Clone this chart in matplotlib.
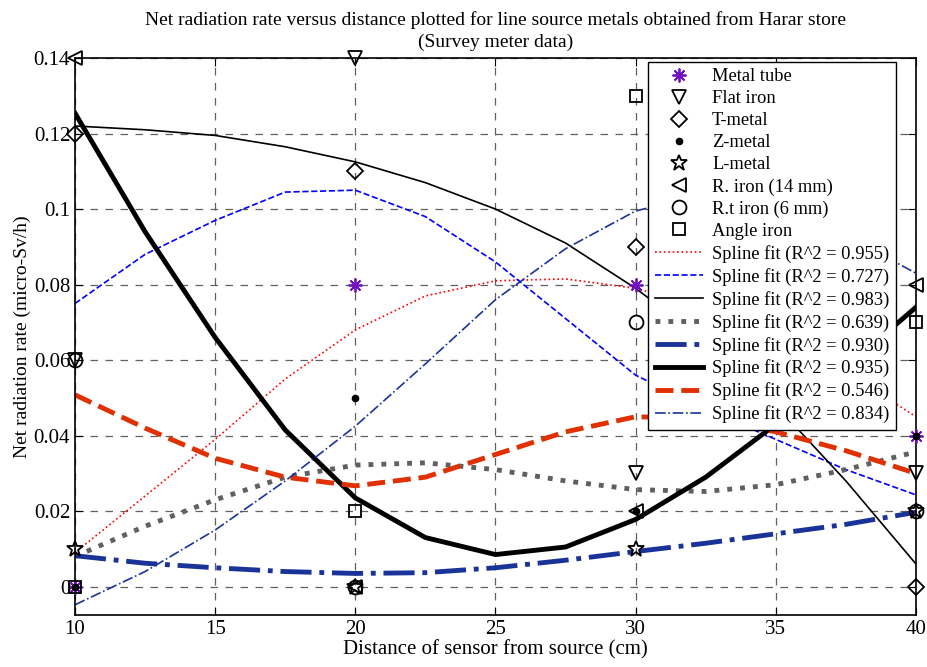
import numpy as np
import matplotlib
matplotlib.use("Agg")
import matplotlib.pyplot as plt

plt.rcParams['font.family'] = ['Liberation Serif', 'DejaVu Serif']

# measured points (cm, micro-Sv/h)
distance = [10, 20, 30, 40]
metal_tube = [0.0, 0.08, 0.08, 0.04]
flat_iron = [0.06, 0.14, 0.03, 0.03]
t_metal = [0.12, 0.11, 0.09, 0.0]
z_metal = [0.0, 0.05, 0.02, 0.04]
l_metal = [0.01, 0.0, 0.01, 0.02]
r_iron = [0.14, 0.0, 0.02, 0.08]
rt_iron = [0.06, 0.0, 0.07, 0.02]
angle_iron = [0.0, 0.02, 0.13, 0.07]

# fitted curves
fit_x = [10, 12.5, 15, 17.5, 20, 22.5, 25, 27.5, 30, 32.5, 35, 37.5, 40]
fit_metal_tube = [0.009, 0.024, 0.039, 0.055, 0.068, 0.077, 0.081, 0.0815, 0.079, 0.074, 0.067, 0.057, 0.045]
fit_flat_iron = [0.075, 0.088, 0.097, 0.1045, 0.105, 0.098, 0.086, 0.071, 0.056, 0.047, 0.039, 0.031, 0.0243]
fit_t_metal = [0.122, 0.121, 0.1195, 0.1165, 0.1125, 0.107, 0.1, 0.091, 0.079, 0.065, 0.048, 0.028, 0.006]
fit_z_metal = [0.008, 0.016, 0.023, 0.029, 0.0322, 0.0328, 0.031, 0.028, 0.0257, 0.0252, 0.027, 0.031, 0.0357]
fit_l_metal = [0.0082, 0.0062, 0.005, 0.004, 0.0035, 0.0037, 0.005, 0.007, 0.0093, 0.0115, 0.014, 0.0165, 0.0197]
fit_r_iron = [0.1254, 0.094, 0.066, 0.0415, 0.0235, 0.013, 0.0085, 0.0105, 0.0178, 0.029, 0.043, 0.058, 0.074]
fit_rt_iron = [0.0508, 0.042, 0.034, 0.029, 0.0267, 0.029, 0.035, 0.041, 0.045, 0.0445, 0.041, 0.036, 0.030]
fit_angle_iron = [-0.0048, 0.004, 0.015, 0.028, 0.0425, 0.059, 0.076, 0.0895, 0.0995, 0.104, 0.101, 0.093, 0.083]

r2 = ['0.955', '0.727', '0.983', '0.639', '0.930', '0.935', '0.546', '0.834']

navy = '#1a3399'

fig = plt.figure(figsize=(9.27, 6.67), dpi=100)
ax = fig.add_axes([0.0809, 0.078, 0.9072, 0.835])

mk = dict(linestyle='none', markerfacecolor='none', markeredgecolor='k',
          markersize=10, markeredgewidth=1.3, clip_on=False, zorder=5)
ax.plot(distance, metal_tube, marker=(8, 2, 0), linestyle='none', color='#7010c0',
        markersize=10, markeredgewidth=1.3, clip_on=False, zorder=5, label='Metal tube')
ax.plot(distance, flat_iron, marker='v', label='Flat iron', **mk)
ax.plot(distance, t_metal, marker='D', label='T-metal', **{**mk, 'markersize': 8})
ax.plot(distance, z_metal, marker='.', linestyle='none', color='k',
        markersize=9, clip_on=False, zorder=5, label='Z-metal')
ax.plot(distance, l_metal, marker='*', label='L-metal', **{**mk, 'markersize': 12})
ax.plot(distance, r_iron, marker='<', label='R. iron (14 mm)', **mk)
ax.plot(distance, rt_iron, marker='o', label='R.t iron (6 mm)', **mk)
ax.plot(distance, angle_iron, marker='s', label='Angle iron', **{**mk, 'markersize': 9})

ax.plot(fit_x, fit_metal_tube, color='r', linestyle=':', lw=1.2)
ax.plot(fit_x, fit_flat_iron, color='b', linestyle='--', lw=1.2)
ax.plot(fit_x, fit_t_metal, color='k', linestyle='-', lw=1.2)
ax.plot(fit_x, fit_z_metal, color='#606060', linestyle=':', lw=3.5)
ax.plot(fit_x, fit_l_metal, color=navy, linestyle='-.', lw=3.5)
ax.plot(fit_x, fit_r_iron, color='k', linestyle='-', lw=3.5)
ax.plot(fit_x, fit_rt_iron, color='#e03000', linestyle='--', lw=3.5)
ax.plot(fit_x, fit_angle_iron, color=navy, linestyle='-.', lw=1.2)
for line, r in zip(ax.lines[8:], r2):
    line.set_label('Spline fit (R^2 = %s)' % r)
    line.set_solid_joinstyle('round')

ax.set_xlim(10, 40)
ax.set_ylim(-0.0075, 0.14)
ax.set_xticks([10, 15, 20, 25, 30, 35, 40])
ax.set_yticks([0, 0.02, 0.04, 0.06, 0.08, 0.1, 0.12, 0.14])
ax.set_yticklabels(['0', '0.02', '0.04', '0.06', '0.08', '0.1', '0.12', '0.14'])
ax.tick_params(direction='in', top=True, right=True, labelsize=15, length=6)
ax.grid(True, color='#606060', linestyle=(0, (6, 6)), lw=0.9)
for s in ax.spines.values():
    s.set_linewidth(1.2)

ax.set_xlabel('Distance of sensor from source (cm)', fontsize=15, labelpad=1)
ax.set_ylabel('Net radiation rate (micro-Sv/h)', fontsize=14, labelpad=2)
ax.set_title('Net radiation rate versus distance plotted for line source metals obtained from Harar store\n(Survey meter data)',
             fontsize=14, pad=8, linespacing=1.35)

leg = ax.legend(loc='upper right', bbox_to_anchor=(0.976, 0.993), borderaxespad=0,
                fontsize=13.3, fancybox=False, framealpha=1, edgecolor='k',
                handlelength=2.6, handletextpad=0.5, labelspacing=0.27, borderpad=0.35)
leg.get_frame().set_linewidth(1.0)

fig.savefig('out.png', dpi=100)
